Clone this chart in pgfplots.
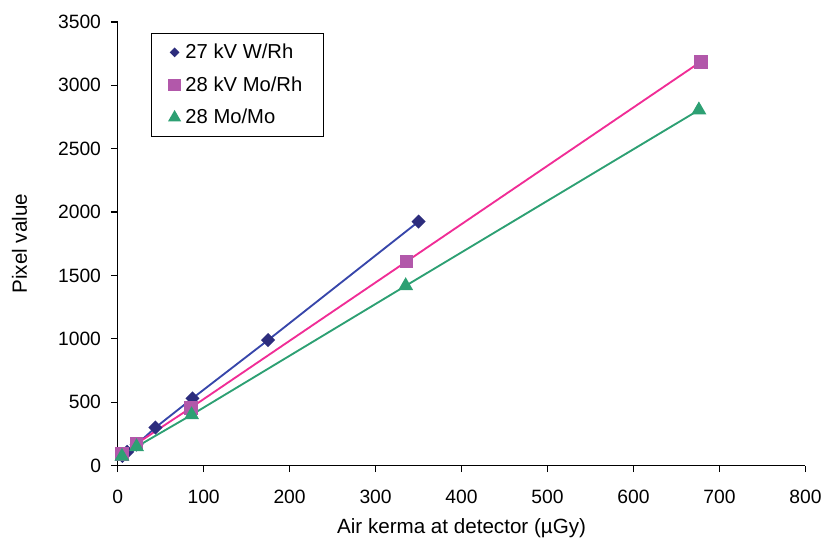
\documentclass[border=0pt]{standalone}
\usepackage{fontspec}
\setmainfont{Liberation Sans}
\usepackage{pgfplots}
\pgfplotsset{compat=1.18}
\definecolor{navymark}{RGB}{45,45,125}
\definecolor{navyline}{RGB}{55,70,170}
\definecolor{mauve}{RGB}{178,88,170}
\definecolor{hotpink}{RGB}{240,45,150}
\definecolor{teal}{RGB}{45,160,115}
\begin{document}
\begin{tikzpicture}
\begin{axis}[
    width=517.5pt, height=333.75pt,
    scale only axis,
    xmin=0, xmax=800, ymin=0, ymax=3500,
    xtick distance=100, ytick distance=500,
    axis lines=left,
    axis line style={-, line width=1pt},
    tick align=outside,
    tick style={black, line width=0.9pt},
    major tick length=5pt,
    tick label style={font=\fontsize{14.5}{17}\selectfont},
    xticklabel style={yshift=-10pt},
    yticklabel style={xshift=-4pt},
    /pgf/number format/assume math mode=true,
    /pgf/number format/1000 sep={},
    xlabel={Air kerma at detector (µGy)},
    ylabel={Pixel value},
    label style={font=\fontsize{15.5}{18}\selectfont},
    xlabel style={yshift=-4pt},
    ylabel style={yshift=16.5pt},
    legend style={at={(0.049,0.975)}, anchor=north west, draw=black, line width=0.6pt,
        font=\fontsize{15.2}{18}\selectfont, row sep=8pt, inner xsep=6pt, inner ysep=6pt},
    legend cell align=left,
    legend image code/.code={%
        \path (0pt,0pt) (16pt,0pt);
        \draw[#1, draw=none] plot coordinates {(10.5pt,0pt)};},
]
\addplot[navyline, line width=1.4pt, mark=square*, mark size=3.05pt,
    mark options={fill=navymark, draw=navymark, rotate=45},
    legend image post style={mark size=1.9pt}] coordinates {
    (5.5,75) (11,108) (22,165) (44,300) (87,530) (175,990) (350,1925)};
\addlegendentry{27 kV W/Rh}
\addplot[hotpink, line width=1.4pt, mark=square*, mark size=4.5pt,
    mark options={fill=mauve, draw=mauve},
    legend image post style={mark size=4pt}] coordinates {
    (5,88) (22,172) (85,455) (336,1610) (678,3185)};
\addlegendentry{28 kV Mo/Rh\rule{8pt}{0pt}}
\addplot[teal, line width=1.4pt, mark=triangle*, mark size=5.1pt,
    mark options={fill=teal, draw=teal},
    legend image post style={mark size=4.3pt}] coordinates {
    (5,72) (22,148) (86,400) (335,1418) (676,2805)};
\addlegendentry{28 Mo/Mo}
\end{axis}
\path ([xshift=-88.5pt,yshift=16.5pt]current axis.north west)
      ([xshift=13.5pt,yshift=-58.5pt]current axis.south east);
\end{tikzpicture}
\end{document}
